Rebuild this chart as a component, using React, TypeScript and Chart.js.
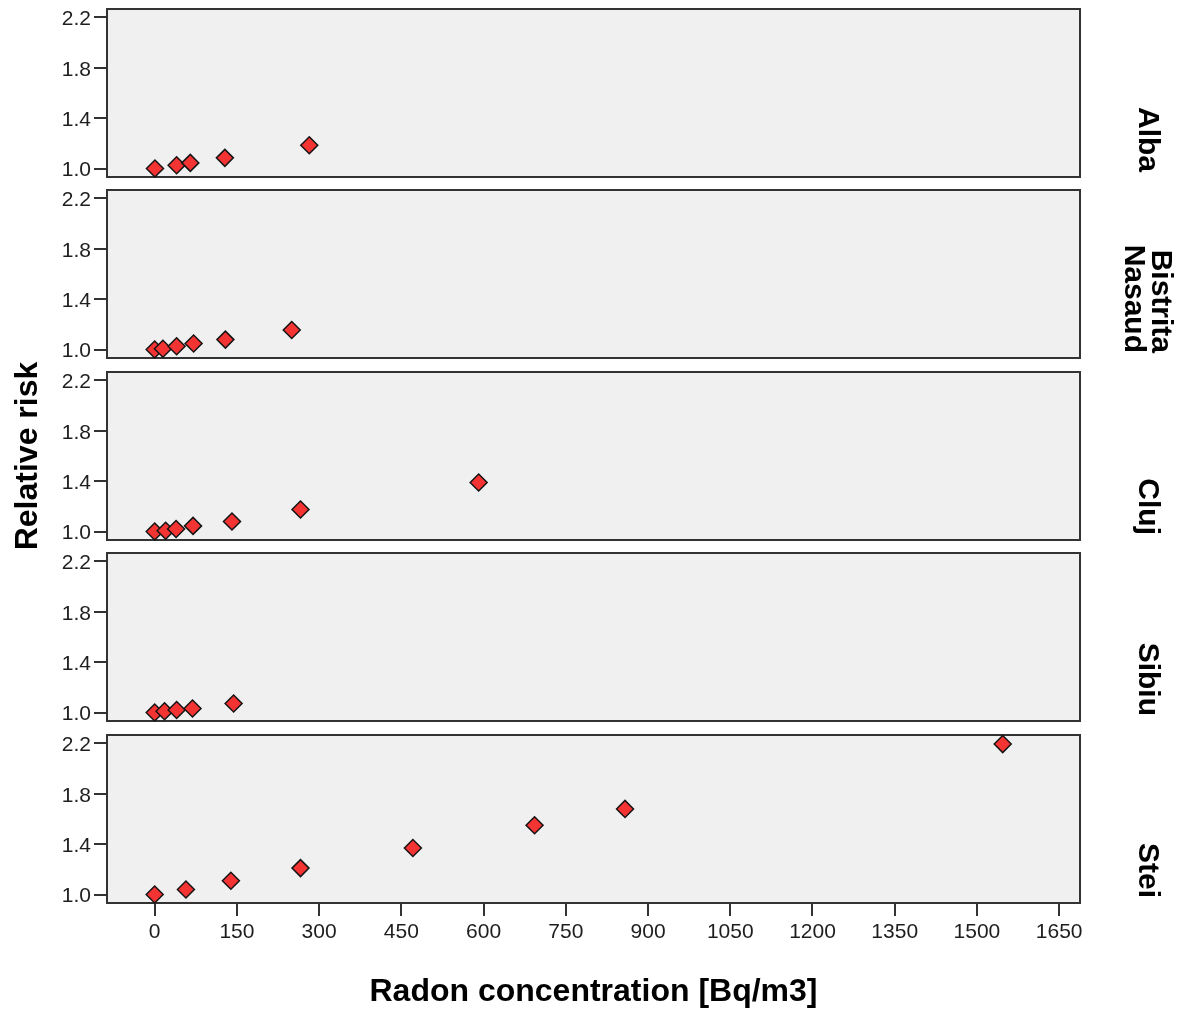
import { useEffect, useRef } from 'react';
import { Chart, registerables } from 'chart.js';

Chart.register(...registerables);

// ---- data ----
const PANEL_LABELS: string[][] = [['Alba'], ['Bistrita', 'Nasaud'], ['Cluj'], ['Sibiu'], ['Stei']];

const ALBA_X = [0.5, 40, 65, 128, 282];
const ALBA_Y = [1.0, 1.026, 1.045, 1.085, 1.185];

const BISTRITA_X = [0, 15, 40, 71, 129, 250];
const BISTRITA_Y = [1.0, 1.006, 1.026, 1.048, 1.079, 1.155];

const CLUJ_X = [0, 20, 39, 70, 141, 266, 591];
const CLUJ_Y = [1.0, 1.006, 1.02, 1.045, 1.08, 1.175, 1.39];

const SIBIU_X = [0, 18, 40, 69, 144];
const SIBIU_Y = [1.0, 1.01, 1.02, 1.032, 1.072];

const STEI_X = [0, 57, 139, 266, 471, 693, 858, 1547];
const STEI_Y = [1.0, 1.04, 1.11, 1.21, 1.37, 1.55, 1.68, 2.195];

const SERIES_X = [ALBA_X, BISTRITA_X, CLUJ_X, SIBIU_X, STEI_X];
const SERIES_Y = [ALBA_Y, BISTRITA_Y, CLUJ_Y, SIBIU_Y, STEI_Y];

const X_TICKS = [0, 150, 300, 450, 600, 750, 900, 1050, 1200, 1350, 1500, 1650];
const Y_TICKS = [1.0, 1.4, 1.8, 2.2];

const X_MIN = -87;
const X_MAX = 1688;
const Y_MIN = 0.933;
const Y_MAX = 2.267;

const X_TITLE = 'Radon concentration [Bq/m3]';
const Y_TITLE = 'Relative risk';

// ---- layout ----
const FONT = '"Liberation Sans", Arial, Helvetica, sans-serif';
const W = 1179;
const PANEL_TOPS = [9, 190, 372, 553, 735];
const PANEL_H = 168;
const PAD = 40;

function Panel({ index }: { index: number }) {
  const ref = useRef<HTMLCanvasElement | null>(null);
  const last = index === 4;
  const top = PANEL_TOPS[index] - PAD;
  const height = last ? 1010 - top : PAD + PANEL_H + PAD;

  useEffect(() => {
    if (!ref.current) return;
    const pts = SERIES_X[index].map((x, i) => ({ x, y: SERIES_Y[index][i] }));

    const panelPlugin = {
      id: 'panelDecor' + index,
      beforeDraw(chart: any) {
        const { ctx, chartArea: a } = chart;
        ctx.save();
        ctx.fillStyle = '#f0f0f0';
        ctx.fillRect(a.left, a.top, a.right - a.left, a.bottom - a.top);
        ctx.restore();
      },
      beforeDatasetsDraw(chart: any) {
        const { ctx, chartArea: a } = chart;
        ctx.save();
        ctx.strokeStyle = '#333333';
        ctx.lineWidth = 2;
        ctx.strokeRect(a.left, a.top, a.right - a.left, a.bottom - a.top);
        ctx.restore();
      },
      afterDraw(chart: any) {
        const { ctx, chartArea: a } = chart;
        const lines = PANEL_LABELS[index];
        ctx.save();
        ctx.font = 'bold 30px ' + FONT;
        ctx.fillStyle = '#000000';
        ctx.textAlign = 'right';
        ctx.textBaseline = 'middle';
        const cx = a.right + 67;
        lines.forEach((line, j) => {
          const x = cx + ((lines.length - 1) / 2 - j) * 27;
          ctx.save();
          ctx.translate(x, a.bottom - 5);
          ctx.rotate(Math.PI / 2);
          ctx.fillText(line, 0, 0);
          ctx.restore();
        });
        ctx.restore();
      },
    };

    const chart = new Chart(ref.current, {
      type: 'scatter',
      data: {
        datasets: [
          {
            data: pts,
            pointStyle: 'rectRot',
            pointRadius: 8.5,
            pointHoverRadius: 8.5,
            backgroundColor: '#f43333',
            borderColor: '#151515',
            borderWidth: 1.5,
            clip: false as any,
          },
        ],
      },
      options: {
        animation: false,
        responsive: false,
        events: [],
        layout: { padding: { top: PAD, bottom: last ? 0 : PAD, left: 0, right: W - 1080 } },
        plugins: { legend: { display: false }, tooltip: { enabled: false } },
        scales: {
          x: {
            type: 'linear',
            display: last,
            min: X_MIN,
            max: X_MAX,
            afterBuildTicks: (s: any) => {
              s.ticks = X_TICKS.map((v) => ({ value: v }));
            },
            afterFit: (s: any) => {
              if (last) s.height = 1010 - (PANEL_TOPS[4] + PANEL_H);
              else s.height = 0;
            },
            ticks: {
              font: { family: FONT, size: 21 },
              color: '#1e1e1e',
              padding: 4,
              maxRotation: 0,
              autoSkip: false,
              callback: (v: any) => String(v),
            },
            grid: {
              display: true,
              drawOnChartArea: false,
              drawTicks: true,
              tickLength: 13,
              color: '#333333',
              lineWidth: 2,
            },
            border: { display: false },
            title: {
              display: true,
              text: X_TITLE,
              font: { family: FONT, size: 32, weight: 'bold', lineHeight: 1 },
              color: '#000000',
              padding: { top: 0, bottom: 2 },
            },
          },
          y: {
            type: 'linear',
            min: Y_MIN,
            max: Y_MAX,
            afterBuildTicks: (s: any) => {
              s.ticks = Y_TICKS.map((v) => ({ value: v }));
            },
            afterFit: (s: any) => {
              s.width = 107;
            },
            ticks: {
              font: { family: FONT, size: 21 },
              color: '#1e1e1e',
              padding: 3,
              labelOffset: 2,
              callback: (v: any) => Number(v).toFixed(1),
            },
            grid: {
              display: true,
              drawOnChartArea: false,
              drawTicks: true,
              tickLength: 13,
              color: '#333333',
              lineWidth: 2,
            },
            border: { display: false },
            title: {
              display: index === 2,
              text: Y_TITLE,
              font: { family: FONT, size: 32, weight: 'bold', lineHeight: 1 },
              color: '#000000',
              padding: { top: 12, bottom: 0 },
            },
          },
        },
      },
      plugins: [panelPlugin],
    } as any);
    return () => chart.destroy();
  }, [index, last]);

  return (
    <div style={{ position: 'absolute', left: 0, top, width: W, height }}>
      <canvas ref={ref} width={W} height={height} style={{ display: 'block' }} />
    </div>
  );
}

export default function App() {
  return (
    <div style={{ position: 'absolute', left: 0, top: 0, width: W, height: 1010, background: '#ffffff', overflow: 'hidden' }}>
      {[0, 1, 2, 3, 4].map((i) => (
        <Panel key={i} index={i} />
      ))}
    </div>
  );
}
